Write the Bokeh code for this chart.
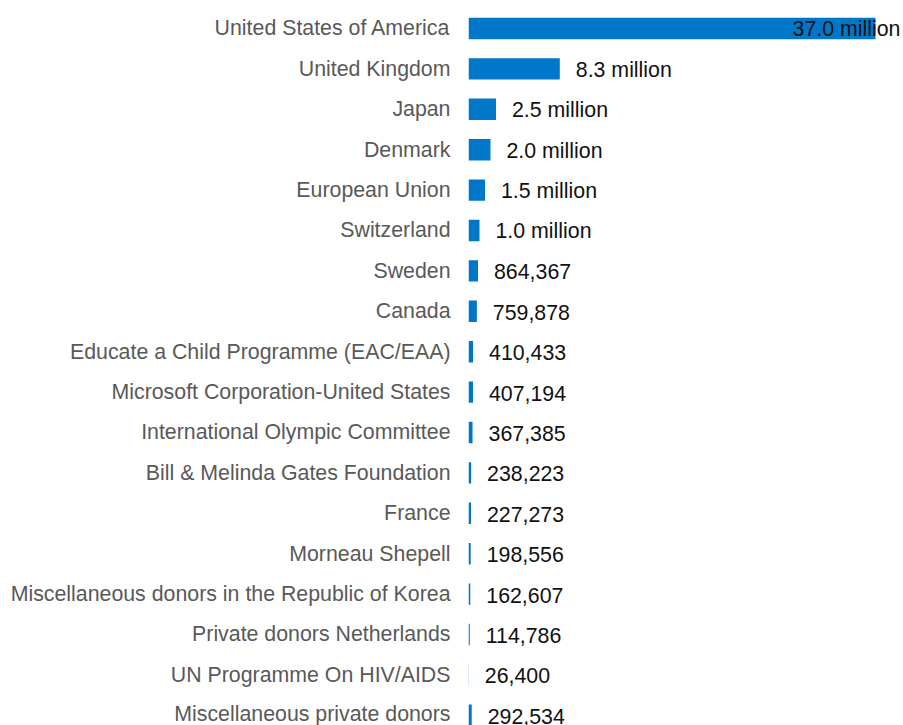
from bokeh.plotting import figure
from bokeh.models import ColumnDataSource, Range1d, FixedTicker
from bokeh.core.properties import value
from bokeh.embed import file_html
from bokeh.resources import INLINE

# ---- data (top to bottom as shown) ----
donors = [
    "United States of America",
    "United Kingdom",
    "Japan",
    "Denmark",
    "European Union",
    "Switzerland",
    "Sweden",
    "Canada",
    "Educate a Child Programme (EAC/EAA)",
    "Microsoft Corporation-United States",
    "International Olympic Committee",
    "Bill & Melinda Gates Foundation",
    "France",
    "Morneau Shepell",
    "Miscellaneous donors in the Republic of Korea",
    "Private donors Netherlands",
    "UN Programme On HIV/AIDS",
    "Miscellaneous private donors",
]
amounts = [
    37_000_000, 8_300_000, 2_500_000, 2_000_000, 1_500_000, 1_000_000,
    864_367, 759_878, 410_433, 407_194, 367_385, 238_223, 227_273,
    198_556, 162_607, 114_786, 26_400, 292_534,
]

BAR_COLOR = "#0077c8"
FONT = "Liberation Sans"

n = len(donors)
ypos = [n - 1 - i for i in range(n)]


def fmt(v):
    return f"{v / 1e6:.1f} million" if v >= 1e6 else f"{v:,.0f}"


labels = [fmt(v) for v in amounts]

X_END = 39.55e6
align = ["right" if v > 0.8 * X_END else "left" for v in amounts]
xoff = [25 if a == "right" else 16 for a in align]

src = ColumnDataSource(dict(y=ypos, amount=amounts, label=labels,
                            align=align, xoff=xoff))

p = figure(width=903, height=725,
           x_range=Range1d(0, X_END), y_range=Range1d(-0.253, n - 1 + 0.693),
           x_axis_location=None, output_backend="svg", toolbar_location=None,
           min_border_left=468, min_border_right=0, min_border_top=0,
           min_border_bottom=0, outline_line_color=None,
           background_fill_color="white", border_fill_color="white")

p.hbar(y="y", left=0, right="amount", height=0.53, source=src,
       fill_color=BAR_COLOR, line_color=None)

p.text(x="amount", y="y", text="label", text_align="align", x_offset="xoff",
       y_offset=1, text_baseline="middle", text_font=value(FONT),
       text_font_size="16pt", text_color="#111111", source=src)

p.xgrid.visible = False
p.ygrid.visible = False

ax = p.yaxis[0]
ax.ticker = FixedTicker(ticks=ypos)
ax.major_label_overrides = {y: d for y, d in zip(ypos, donors)}
ax.major_label_text_font = FONT
ax.major_label_text_font_size = "16pt"
ax.major_label_text_color = "#595959"
ax.major_label_standoff = 18
ax.axis_line_color = None
ax.major_tick_line_color = None
ax.minor_tick_line_color = None
ax.major_tick_out = 0
ax.major_tick_in = 0

open("out.html", "w").write(file_html(p, INLINE))
